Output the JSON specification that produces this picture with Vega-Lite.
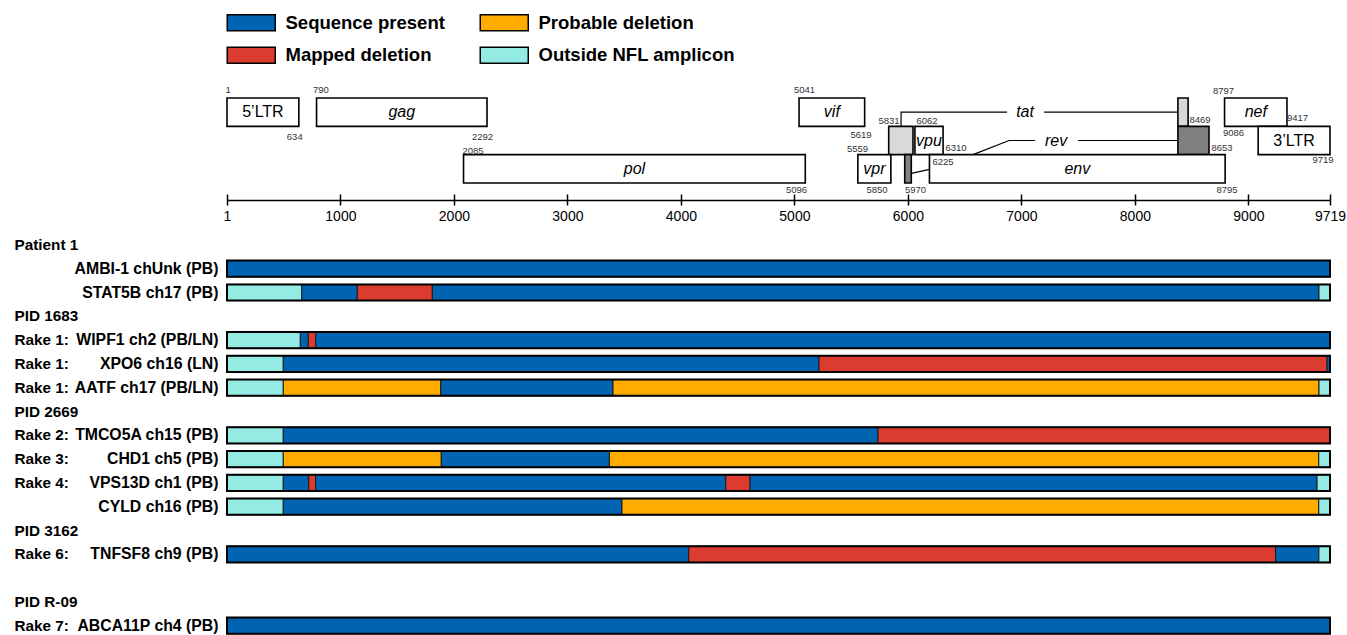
{
  "$schema": "https://vega.github.io/schema/vega-lite/v6.json",
  "padding": {"left": 14, "top": 13, "right": 0, "bottom": 0},
  "autosize": {"type": "pad"},
  "bounds": "flush",
  "spacing": 33,
  "config": {"font": "Liberation Sans", "view": {"stroke": null}, "axis": {"grid": false}},
  "datasets": {
    "genes": [
      {"name": "5’LTR", "start": 1, "end": 634, "lo": 2, "hi": 3, "kind": "gene"},
      {"name": "gag", "start": 790, "end": 2292, "lo": 2, "hi": 3, "kind": "gene"},
      {"name": "vif", "start": 5041, "end": 5619, "lo": 2, "hi": 3, "kind": "gene"},
      {"name": "nef", "start": 8790, "end": 9340, "lo": 2, "hi": 3, "kind": "gene"},
      {"name": "tat exon 2", "start": 8379, "end": 8469, "lo": 2, "hi": 3, "kind": "tat exon"},
      {"name": "tat exon 1", "start": 5831, "end": 6045, "lo": 1, "hi": 2, "kind": "tat exon"},
      {"name": "vpu", "start": 6062, "end": 6310, "lo": 1, "hi": 2, "kind": "gene"},
      {"name": "rev exon 2", "start": 8379, "end": 8653, "lo": 1, "hi": 2, "kind": "rev exon"},
      {"name": "3’LTR", "start": 9086, "end": 9719, "lo": 1, "hi": 2, "kind": "gene"},
      {"name": "pol", "start": 2085, "end": 5096, "lo": 0, "hi": 1, "kind": "gene"},
      {"name": "vpr", "start": 5559, "end": 5850, "lo": 0, "hi": 1, "kind": "gene"},
      {"name": "rev exon 1", "start": 5972, "end": 6030, "lo": 0, "hi": 1, "kind": "rev exon"},
      {"name": "env", "start": 6190, "end": 8795, "lo": 0, "hi": 1, "kind": "gene"}
    ],
    "links": [
      {"seg": "tat a", "i": 0, "x": 5940, "lv": 2.0},
      {"seg": "tat a", "i": 1, "x": 5940, "lv": 2.5},
      {"seg": "tat a", "i": 2, "x": 6873, "lv": 2.5},
      {"seg": "tat b", "i": 0, "x": 7200, "lv": 2.5},
      {"seg": "tat b", "i": 1, "x": 8379, "lv": 2.5},
      {"seg": "rev a", "i": 0, "x": 6030, "lv": 0.34},
      {"seg": "rev a", "i": 1, "x": 6190, "lv": 0.48},
      {"seg": "rev a", "i": 2, "x": 6574, "lv": 1.0},
      {"seg": "rev a", "i": 3, "x": 6891, "lv": 1.5},
      {"seg": "rev a", "i": 4, "x": 7120, "lv": 1.5},
      {"seg": "rev b", "i": 0, "x": 7499, "lv": 1.5},
      {"seg": "rev b", "i": 1, "x": 8379, "lv": 1.5}
    ],
    "linknames": [
      {"t": "tat", "x": 7032, "lv": 2.5},
      {"t": "rev", "x": 7306, "lv": 1.5}
    ],
    "nums": [
      {"t": "1", "x": 10, "lv": 3.28},
      {"t": "790", "x": 829, "lv": 3.28},
      {"t": "5041", "x": 5089, "lv": 3.28},
      {"t": "8797", "x": 8781, "lv": 3.25},
      {"t": "634", "x": 598, "lv": 1.62},
      {"t": "2292", "x": 2252, "lv": 1.62},
      {"t": "5619", "x": 5587, "lv": 1.69},
      {"t": "9086", "x": 8869, "lv": 1.76},
      {"t": "9417", "x": 9433, "lv": 2.29},
      {"t": "8469", "x": 8574, "lv": 2.22},
      {"t": "5831", "x": 5834, "lv": 2.19},
      {"t": "6062", "x": 6169, "lv": 2.19},
      {"t": "8653", "x": 8768, "lv": 1.24},
      {"t": "6310", "x": 6424, "lv": 1.24},
      {"t": "5559", "x": 5556, "lv": 1.2},
      {"t": "2085", "x": 2169, "lv": 1.13},
      {"t": "9719", "x": 9658, "lv": 0.81},
      {"t": "6225", "x": 6310, "lv": 0.74},
      {"t": "5096", "x": 5019, "lv": -0.23},
      {"t": "5850", "x": 5728, "lv": -0.23},
      {"t": "5970", "x": 6067, "lv": -0.23},
      {"t": "8795", "x": 8812, "lv": -0.23}
    ],
    "segs": [
      {"row": "|AMBI-1 chUnk (PB)", "start": 1, "end": 9719, "cat": "Sequence present"},
      {"row": "|STAT5B ch17 (PB)", "start": 1, "end": 660, "cat": "Outside NFL amplicon"},
      {"row": "|STAT5B ch17 (PB)", "start": 660, "end": 1149, "cat": "Sequence present"},
      {"row": "|STAT5B ch17 (PB)", "start": 1149, "end": 1810, "cat": "Mapped deletion"},
      {"row": "|STAT5B ch17 (PB)", "start": 1810, "end": 9622, "cat": "Sequence present"},
      {"row": "|STAT5B ch17 (PB)", "start": 9622, "end": 9719, "cat": "Outside NFL amplicon"},
      {"row": "Rake 1:|WIPF1 ch2 (PB/LN)", "start": 1, "end": 647, "cat": "Outside NFL amplicon"},
      {"row": "Rake 1:|WIPF1 ch2 (PB/LN)", "start": 647, "end": 717, "cat": "Sequence present"},
      {"row": "Rake 1:|WIPF1 ch2 (PB/LN)", "start": 717, "end": 782, "cat": "Mapped deletion"},
      {"row": "Rake 1:|WIPF1 ch2 (PB/LN)", "start": 782, "end": 9719, "cat": "Sequence present"},
      {"row": "Rake 1:|XPO6 ch16 (LN)", "start": 1, "end": 497, "cat": "Outside NFL amplicon"},
      {"row": "Rake 1:|XPO6 ch16 (LN)", "start": 497, "end": 5217, "cat": "Sequence present"},
      {"row": "Rake 1:|XPO6 ch16 (LN)", "start": 5217, "end": 9693, "cat": "Mapped deletion"},
      {"row": "Rake 1:|XPO6 ch16 (LN)", "start": 9693, "end": 9719, "cat": "Sequence present"},
      {"row": "Rake 1:|AATF ch17 (PB/LN)", "start": 1, "end": 497, "cat": "Outside NFL amplicon"},
      {"row": "Rake 1:|AATF ch17 (PB/LN)", "start": 497, "end": 1884, "cat": "Probable deletion"},
      {"row": "Rake 1:|AATF ch17 (PB/LN)", "start": 1884, "end": 3402, "cat": "Sequence present"},
      {"row": "Rake 1:|AATF ch17 (PB/LN)", "start": 3402, "end": 9622, "cat": "Probable deletion"},
      {"row": "Rake 1:|AATF ch17 (PB/LN)", "start": 9622, "end": 9719, "cat": "Outside NFL amplicon"},
      {"row": "Rake 2:|TMCO5A ch15 (PB)", "start": 1, "end": 497, "cat": "Outside NFL amplicon"},
      {"row": "Rake 2:|TMCO5A ch15 (PB)", "start": 497, "end": 5737, "cat": "Sequence present"},
      {"row": "Rake 2:|TMCO5A ch15 (PB)", "start": 5737, "end": 9719, "cat": "Mapped deletion"},
      {"row": "Rake 3:|CHD1 ch5 (PB)", "start": 1, "end": 497, "cat": "Outside NFL amplicon"},
      {"row": "Rake 3:|CHD1 ch5 (PB)", "start": 497, "end": 1889, "cat": "Probable deletion"},
      {"row": "Rake 3:|CHD1 ch5 (PB)", "start": 1889, "end": 3370, "cat": "Sequence present"},
      {"row": "Rake 3:|CHD1 ch5 (PB)", "start": 3370, "end": 9620, "cat": "Probable deletion"},
      {"row": "Rake 3:|CHD1 ch5 (PB)", "start": 9620, "end": 9719, "cat": "Outside NFL amplicon"},
      {"row": "Rake 4:|VPS13D ch1 (PB)", "start": 1, "end": 497, "cat": "Outside NFL amplicon"},
      {"row": "Rake 4:|VPS13D ch1 (PB)", "start": 497, "end": 721, "cat": "Sequence present"},
      {"row": "Rake 4:|VPS13D ch1 (PB)", "start": 721, "end": 782, "cat": "Mapped deletion"},
      {"row": "Rake 4:|VPS13D ch1 (PB)", "start": 782, "end": 4395, "cat": "Sequence present"},
      {"row": "Rake 4:|VPS13D ch1 (PB)", "start": 4395, "end": 4609, "cat": "Mapped deletion"},
      {"row": "Rake 4:|VPS13D ch1 (PB)", "start": 4609, "end": 9605, "cat": "Sequence present"},
      {"row": "Rake 4:|VPS13D ch1 (PB)", "start": 9605, "end": 9719, "cat": "Outside NFL amplicon"},
      {"row": "|CYLD ch16 (PB)", "start": 1, "end": 497, "cat": "Outside NFL amplicon"},
      {"row": "|CYLD ch16 (PB)", "start": 497, "end": 3481, "cat": "Sequence present"},
      {"row": "|CYLD ch16 (PB)", "start": 3481, "end": 9620, "cat": "Probable deletion"},
      {"row": "|CYLD ch16 (PB)", "start": 9620, "end": 9719, "cat": "Outside NFL amplicon"},
      {"row": "Rake 6:|TNFSF8 ch9 (PB)", "start": 1, "end": 4069, "cat": "Sequence present"},
      {"row": "Rake 6:|TNFSF8 ch9 (PB)", "start": 4069, "end": 9239, "cat": "Mapped deletion"},
      {"row": "Rake 6:|TNFSF8 ch9 (PB)", "start": 9239, "end": 9621, "cat": "Sequence present"},
      {"row": "Rake 6:|TNFSF8 ch9 (PB)", "start": 9621, "end": 9719, "cat": "Outside NFL amplicon"},
      {"row": "Rake 7:|ABCA11P ch4 (PB)", "start": 1, "end": 9719, "cat": "Sequence present"}
    ]
  },
  "vconcat": [
    {
      "width": 1103,
      "height": 117,
      "layer": [
        {
          "data": {"name": "links"},
          "mark": {"type": "line", "color": "black", "strokeWidth": 1.2},
          "encoding": {
            "x": {"field": "x", "type": "quantitative", "scale": {"domain": [1, 9719], "nice": false, "zero": false},
              "axis": {"values": [1, 1000, 2000, 3000, 4000, 5000, 6000, 7000, 8000, 9000, 9719], "format": "d", "title": null,
                "labelFontSize": 14, "labelColor": "black", "labelPadding": 4, "labelFlush": false, "tickSize": 5,
                "tickColor": "black", "tickWidth": 1.5, "domainColor": "black", "domainWidth": 1.5}},
            "y": {"field": "lv", "type": "quantitative", "scale": {"domain": [-0.6, 3.53], "nice": false, "zero": false}, "axis": null},
            "detail": {"field": "seg"},
            "order": {"field": "i"}
          }
        },
        {
          "data": {"name": "genes"},
          "mark": {"type": "rect", "stroke": "black", "strokeWidth": 1.6},
          "encoding": {
            "x": {"field": "start", "type": "quantitative",
              "axis": {"values": [1, 1000, 2000, 3000, 4000, 5000, 6000, 7000, 8000, 9000, 9719], "orient": "bottom", "labels": false, "domain": false, "tickSize": -6, "tickColor": "black", "tickWidth": 1.5, "title": null}},
            "x2": {"field": "end"},
            "y": {"field": "lo", "type": "quantitative", "axis": null},
            "y2": {"field": "hi"},
            "fill": {"field": "kind", "type": "nominal", "scale": {"domain": ["gene", "tat exon", "rev exon"], "range": ["white", "#d9d9d9", "#808080"]}, "legend": null}
          }
        },
        {
          "data": {"name": "genes"},
          "transform": [
            {"filter": "datum.kind == 'gene'"},
            {"fold": ["start", "end"], "as": ["e1", "xv"]},
            {"fold": ["lo", "hi"], "as": ["e2", "yv"]},
            {"aggregate": [{"op": "mean", "field": "xv", "as": "xm"}, {"op": "mean", "field": "yv", "as": "ym"}], "groupby": ["name"]},
            {"filter": "indexof(datum.name, 'LTR') < 0"}
          ],
          "mark": {"type": "text", "fontSize": 16, "fontStyle": "italic", "color": "black"},
          "encoding": {
            "x": {"field": "xm", "type": "quantitative", "axis": null},
            "y": {"field": "ym", "type": "quantitative", "axis": null},
            "text": {"field": "name"}
          }
        },
        {
          "data": {"name": "genes"},
          "transform": [
            {"filter": "datum.kind == 'gene'"},
            {"fold": ["start", "end"], "as": ["e1", "xv"]},
            {"fold": ["lo", "hi"], "as": ["e2", "yv"]},
            {"aggregate": [{"op": "mean", "field": "xv", "as": "xm"}, {"op": "mean", "field": "yv", "as": "ym"}], "groupby": ["name"]},
            {"filter": "indexof(datum.name, 'LTR') >= 0"}
          ],
          "mark": {"type": "text", "fontSize": 16, "color": "black"},
          "encoding": {
            "x": {"field": "xm", "type": "quantitative", "axis": null},
            "y": {"field": "ym", "type": "quantitative", "axis": null},
            "text": {"field": "name"}
          }
        },
        {
          "data": {"name": "linknames"},
          "mark": {"type": "text", "fontSize": 16, "fontStyle": "italic", "color": "black"},
          "encoding": {
            "x": {"field": "x", "type": "quantitative", "axis": null},
            "y": {"field": "lv", "type": "quantitative", "axis": null},
            "text": {"field": "t"}
          }
        },
        {
          "data": {"name": "nums"},
          "mark": {"type": "text", "fontSize": 9.5, "color": "#333"},
          "encoding": {
            "x": {"field": "x", "type": "quantitative", "axis": null},
            "y": {"field": "lv", "type": "quantitative", "axis": null},
            "text": {"field": "t"}
          }
        }
      ],
      "resolve": {"axis": {"x": "independent"}}
    },
    {
      "width": 1103,
      "height": 404.6,
      "data": {"name": "segs"},
      "layer": [
        {
          "mark": {"type": "bar", "stroke": "#1a1a1a", "strokeWidth": 1},
          "encoding": {
            "x": {"field": "start", "type": "quantitative", "scale": {"domain": [1, 9719], "nice": false, "zero": false}, "axis": null},
            "x2": {"field": "end"},
            "y": {"field": "row", "type": "nominal",
              "scale": {"domain": ["Patient 1|", "|AMBI-1 chUnk (PB)", "|STAT5B ch17 (PB)", "PID 1683|", "Rake 1:|WIPF1 ch2 (PB/LN)", "Rake 1:|XPO6 ch16 (LN)", "Rake 1:|AATF ch17 (PB/LN)", "PID 2669|", "Rake 2:|TMCO5A ch15 (PB)", "Rake 3:|CHD1 ch5 (PB)", "Rake 4:|VPS13D ch1 (PB)", "|CYLD ch16 (PB)", "PID 3162|", "Rake 6:|TNFSF8 ch9 (PB)", " |", "PID R-09|", "Rake 7:|ABCA11P ch4 (PB)"], "paddingInner": 0.32, "paddingOuter": 0.16},
              "axis": {"title": null, "ticks": false, "domain": false, "labelExpr": "split(datum.value, '|')[1]", "labelAlign": "right", "labelPadding": 9, "labelFontSize": 15.8, "labelFontWeight": "bold", "labelColor": "black", "labelLimit": 0}},
            "color": {"field": "cat", "type": "nominal",
              "scale": {"domain": ["Sequence present", "Mapped deletion", "Probable deletion", "Outside NFL amplicon"], "range": ["#0064B2", "#DC3B2F", "#FFAB00", "#94EBE4"]},
              "legend": {"orient": "none", "legendX": 15, "legendY": -70, "columns": 2, "title": null, "symbolType": "M-3,-1H3V1H-3Z", "symbolSize": 256, "symbolStrokeColor": "black", "symbolStrokeWidth": 1.5, "symbolOpacity": 1, "labelFontSize": 18.5, "labelFontWeight": "bold", "labelColor": "black", "labelOffset": 25, "rowPadding": 10, "columnPadding": 32, "padding": 0, "labelLimit": 0}}
          }
        },
        {
          "transform": [{"aggregate": [{"op": "min", "field": "start", "as": "s0"}, {"op": "max", "field": "end", "as": "e0"}], "groupby": ["row"]}],
          "mark": {"type": "bar", "fillOpacity": 0, "stroke": "black", "strokeWidth": 2},
          "encoding": {
            "x": {"field": "s0", "type": "quantitative", "axis": null},
            "x2": {"field": "e0"},
            "y": {"field": "row", "type": "nominal",
              "scale": {"domain": ["Patient 1|", "|AMBI-1 chUnk (PB)", "|STAT5B ch17 (PB)", "PID 1683|", "Rake 1:|WIPF1 ch2 (PB/LN)", "Rake 1:|XPO6 ch16 (LN)", "Rake 1:|AATF ch17 (PB/LN)", "PID 2669|", "Rake 2:|TMCO5A ch15 (PB)", "Rake 3:|CHD1 ch5 (PB)", "Rake 4:|VPS13D ch1 (PB)", "|CYLD ch16 (PB)", "PID 3162|", "Rake 6:|TNFSF8 ch9 (PB)", " |", "PID R-09|", "Rake 7:|ABCA11P ch4 (PB)"], "paddingInner": 0.32, "paddingOuter": 0.16},
              "axis": {"orient": "left", "title": null, "ticks": false, "domain": false, "labelExpr": "split(datum.value, '|')[0]", "labelAlign": "left", "labelPadding": 213, "labelFontSize": 15.3, "labelFontWeight": "bold", "labelColor": "black", "labelLimit": 0}}
          }
        }
      ],
      "resolve": {"axis": {"y": "independent"}}
    }
  ]
}
